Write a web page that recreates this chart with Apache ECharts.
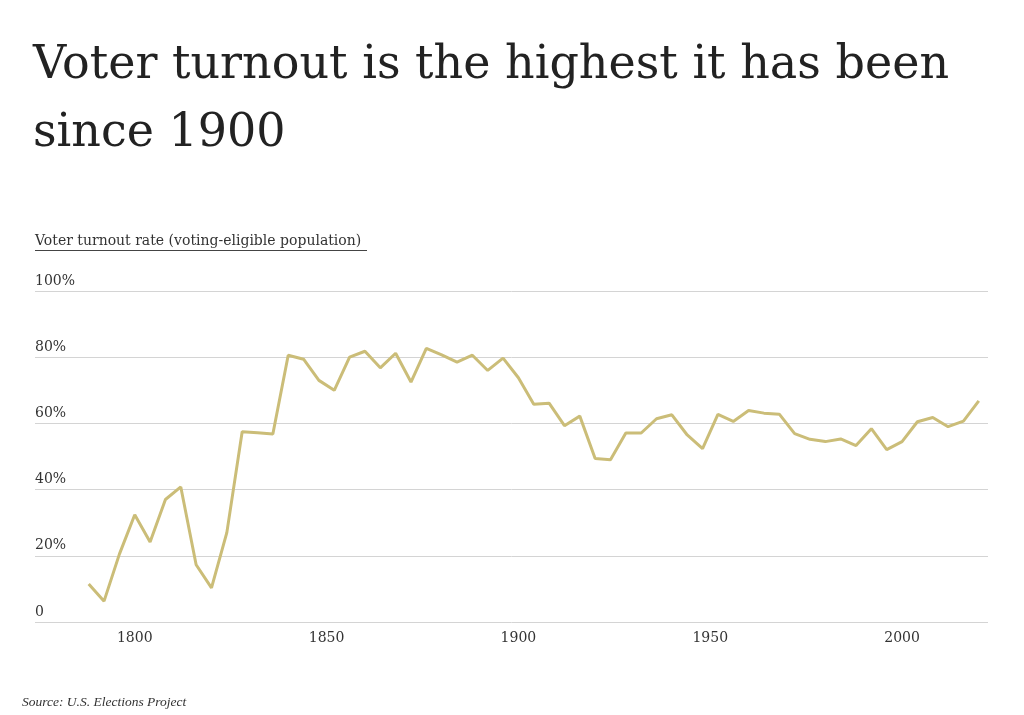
<!DOCTYPE html>
<html>
<head>
<meta charset="utf-8">
<script src="https://cdn.jsdelivr.net/npm/echarts@6/dist/echarts.min.js"></script>
<style>
html,body{margin:0;padding:0;background:#fff;}
#chart{width:1024px;height:715px;}
</style>
</head>
<body>
<div id="chart"></div>
<script>
const years = [1788,1792,1796,1800,1804,1808,1812,1816,1820,1824,1828,1832,1836,1840,1844,1848,1852,1856,1860,1864,1868,1872,1876,1880,1884,1888,1892,1896,1900,1904,1908,1912,1916,1920,1924,1928,1932,1936,1940,1944,1948,1952,1956,1960,1964,1968,1972,1976,1980,1984,1988,1992,1996,2000,2004,2008,2012,2016,2020];
const turnout = [11.5,6.3,20.5,32.4,24.2,37.0,40.8,17.3,10.3,27.0,57.5,57.2,56.8,80.6,79.4,73.0,70.0,80.0,81.8,76.8,81.2,72.5,82.7,80.7,78.5,80.6,76.0,79.7,73.8,65.8,66.1,59.3,62.2,49.4,49.0,57.1,57.1,61.4,62.6,56.5,52.4,62.7,60.6,63.9,63.1,62.8,56.9,55.2,54.5,55.3,53.3,58.4,52.1,54.5,60.5,61.8,59.0,60.7,66.8];
const yTicks = [0,20,40,60,80,100];
const xLabelYears = [1800,1850,1900,1950,2000];

const data = years.map((y,i)=>[y, turnout[i]]);
const chart = echarts.init(document.getElementById('chart'), null, {renderer:'canvas'});
const serif = '"DejaVu Serif", serif';
chart.setOption({
  backgroundColor:'#fff',
  animation:false,
  title:[{
    text:'Voter turnout is the highest it has been\nsince 1900',
    left:33, top:32, padding:0,
    textStyle:{fontFamily:serif, fontWeight:'normal', fontSize:46, lineHeight:68, color:'#222'}
  },{
    text:'Voter turnout rate (voting-eligible population)',
    left:35, top:234, padding:0,
    textStyle:{fontFamily:serif, fontWeight:'normal', fontSize:14, color:'#333'}
  },{
    text:'Source: U.S. Elections Project',
    left:22, top:695, padding:0,
    textStyle:{fontFamily:'"Liberation Serif", serif', fontStyle:'italic', fontWeight:'normal', fontSize:13.5, color:'#333'}
  }],
  graphic:[{
    type:'rect', left:35, top:250, shape:{width:332, height:1}, style:{fill:'#444'}
  }],
  grid:{left:35, right:36, top:291, bottom:93},
  xAxis:{
    type:'value', min:1774, max:2022.4,
    axisLine:{show:false}, axisTick:{show:false}, splitLine:{show:false},
    axisLabel:{
      color:'#333', fontFamily:serif, fontSize:14, margin:9,
      formatter:v=> xLabelYears.includes(v) ? String(v) : ''
    }
  },
  yAxis:{
    type:'value', min:0, max:100, interval:20,
    axisLine:{show:false}, axisTick:{show:false},
    splitLine:{lineStyle:{color:'#d4d4d4', width:1}},
    axisLabel:{
      inside:true, margin:0, align:'left', verticalAlign:'bottom',
      padding:[0,0,3,0],
      color:'#333', fontFamily:serif, fontSize:14,
      formatter:v=> yTicks.includes(v) ? (v===0 ? '0' : v+'%') : ''
    }
  },
  series:[{
    type:'line', data:data, showSymbol:false, symbol:'none',
    lineStyle:{color:'#cbbd78', width:3}
  }]
});
</script>
</body>
</html>
